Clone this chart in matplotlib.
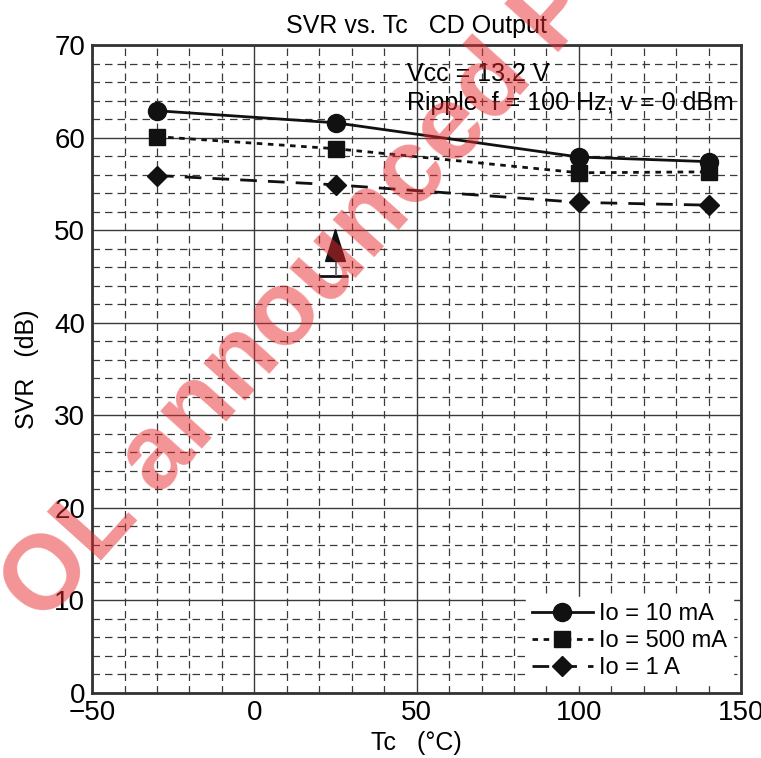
import matplotlib.pyplot as plt
from matplotlib.ticker import MultipleLocator

plt.rcParams['font.family'] = ['Liberation Sans', 'DejaVu Sans']

# data
tc = [-30, 25, 100, 140]
svr_10ma = [62.9, 61.6, 57.9, 57.4]
svr_500ma = [60.1, 58.8, 56.2, 56.3]
svr_1a = [55.9, 54.9, 53.0, 52.7]

# spec limit marker (min SVR at 25 degC)
spec_tc = 25
spec_min = 45
spec_span = [20, 29]

fig = plt.figure(figsize=(7.61, 7.58), dpi=100)
ax = fig.add_axes([0.121, 0.0858, 0.853, 0.8548])

ax.set_xlim(-50, 150)
ax.set_ylim(0, 70)
ax.xaxis.set_major_locator(MultipleLocator(50))
ax.xaxis.set_minor_locator(MultipleLocator(10))
ax.yaxis.set_major_locator(MultipleLocator(10))
ax.yaxis.set_minor_locator(MultipleLocator(2))
ax.grid(which='major', color='#3a3a3a', linewidth=1.0, linestyle='-')
ax.grid(which='minor', color='#3a3a3a', linewidth=0.9, linestyle=(0, (6, 4)))
ax.set_axisbelow(True)
ax.tick_params(which='both', length=0, labelsize=20, pad=5)
for s in ax.spines.values():
    s.set_linewidth(2)
    s.set_color('#333333')

ax.plot(tc, svr_10ma, color='#111111', lw=2, marker='o', ms=13, label='Io = 10 mA')
ax.plot(tc, svr_500ma, color='#111111', lw=2, linestyle=(0, (2, 2)), marker='s', ms=12,
        label='Io = 500 mA')
ax.plot(tc, svr_1a, color='#111111', lw=2, linestyle=(0, (6, 4)), marker='D', ms=10,
        label='Io = 1 A')

# spec arrow
ax.hlines(spec_min, spec_span[0], spec_span[1], color='#111111', lw=2)
ax.vlines(spec_tc, spec_min, spec_min + 3, color='#666666', lw=1.3)
ax.annotate('', xy=(spec_tc, spec_min + 5.3), xytext=(spec_tc, spec_min + 2.9),
            arrowprops=dict(arrowstyle='-|>,head_length=0.8,head_width=0.25',
                            mutation_scale=28, color='#111111', lw=1.2,
                            shrinkA=0, shrinkB=0))

ax.text(47, 66.9, 'Vcc = 13.2 V', fontsize=18, va='center', ha='left')
ax.text(47, 63.7, 'Ripple  f = 100 Hz, v = 0 dBm', fontsize=18, va='center', ha='left')

ax.set_title('SVR vs. Tc   CD Output', fontsize=18, pad=9)
ax.set_xlabel('Tc   (°C)', fontsize=18, labelpad=4)
ax.set_ylabel('SVR   (dB)', fontsize=18, labelpad=11)

leg = ax.legend(loc='lower right', fontsize=17, frameon=True, framealpha=1,
                edgecolor='white', fancybox=False, handlelength=2.6,
                handletextpad=0.25, labelspacing=0.2, borderaxespad=0.35,
                borderpad=0.25)

# watermark
fig.text(0.423, 0.583, 'OL announced P', fontsize=76, fontweight='bold',
         color='#e8282e', alpha=0.5, rotation=48, ha='center', va='baseline',
         rotation_mode='anchor', zorder=10)

fig.savefig('out.png', dpi=100)
